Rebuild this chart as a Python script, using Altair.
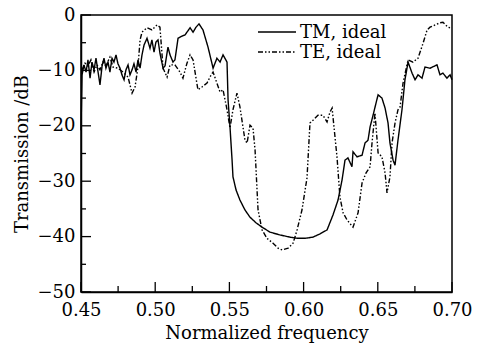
import altair as alt
import pandas as pd

tm_x = [0.4500, 0.4507, 0.4520, 0.4534, 0.4547, 0.4561, 0.4574, 0.4588, 0.4601, 0.4615,
        0.4628, 0.4642, 0.4655, 0.4668, 0.4682, 0.4695, 0.4709, 0.4722, 0.4736, 0.4749,
        0.4763, 0.4776, 0.4790, 0.4803, 0.4817, 0.4830, 0.4844, 0.4857, 0.4871, 0.4884,
        0.4898, 0.4911, 0.4925, 0.4945, 0.4965, 0.4978, 0.4992, 0.5005, 0.5019, 0.5032,
        0.5053, 0.5066, 0.5086, 0.5100, 0.5120, 0.5133, 0.5154, 0.5181, 0.5201, 0.5235,
        0.5255, 0.5275, 0.5295, 0.5322, 0.5356, 0.5390, 0.5416, 0.5437, 0.5457, 0.5484,
        0.5491, 0.5504, 0.5518, 0.5524, 0.5545, 0.5571, 0.5605, 0.5639, 0.5679, 0.5726,
        0.5774, 0.5841, 0.5908, 0.5956, 0.6010, 0.6063, 0.6111, 0.6158, 0.6198, 0.6232,
        0.6259, 0.6279, 0.6299, 0.6326, 0.6333, 0.6360, 0.6394, 0.6414, 0.6434, 0.6448,
        0.6468, 0.6488, 0.6502, 0.6528, 0.6549, 0.6569, 0.6582, 0.6603, 0.6616, 0.6636,
        0.6663, 0.6683, 0.6704, 0.6731, 0.6751, 0.6771, 0.6798, 0.6818, 0.6852, 0.6899,
        0.6919, 0.6939, 0.6966, 0.6987, 0.7000]
tm_y = [-20.8, -10.8, -9.0, -10.3, -8.1, -11.4, -8.5, -9.9, -7.8, -10.3,
        -12.6, -9.2, -7.8, -9.6, -8.5, -10.3, -7.8, -8.5, -7.2, -8.8,
        -9.6, -10.8, -11.7, -9.9, -9.0, -10.8, -9.9, -8.8, -10.3, -8.1,
        -9.6, -7.2, -5.4, -4.2, -6.0, -4.5, -6.7, -4.9, -4.5, -6.9,
        -9.6, -9.2, -5.8, -7.2, -8.5, -8.1, -4.2, -3.8, -3.6, -2.3,
        -3.1, -2.2, -1.6, -2.7, -5.8, -9.6, -7.8, -8.5, -7.2, -8.5,
        -15.3, -20.2, -26.2, -29.2, -31.6, -33.4, -35.2, -36.5, -37.5, -38.4,
        -39.2, -39.7, -40.1, -40.3, -40.3, -40.1, -39.5, -38.8, -36.1, -33.4,
        -29.8, -26.2, -25.8, -27.4, -24.7, -25.6, -25.3, -23.1, -22.6, -20.2,
        -18.1, -15.9, -14.4, -15.0, -16.8, -19.5, -23.1, -26.2, -27.1, -22.6,
        -17.1, -11.7, -8.5, -10.5, -11.7, -10.8, -11.4, -9.4, -9.6, -9.0,
        -10.8, -10.5, -11.4, -10.8, -11.7]

te_x = [0.4507, 0.4527, 0.4547, 0.4567, 0.4588, 0.4608, 0.4628, 0.4648, 0.4668, 0.4695,
        0.4716, 0.4749, 0.4783, 0.4817, 0.4844, 0.4864, 0.4884, 0.4898, 0.4911, 0.4945,
        0.4978, 0.5012, 0.5032, 0.5053, 0.5080, 0.5100, 0.5133, 0.5167, 0.5187, 0.5214,
        0.5235, 0.5255, 0.5288, 0.5315, 0.5349, 0.5369, 0.5390, 0.5416, 0.5437, 0.5457,
        0.5484, 0.5504, 0.5524, 0.5551, 0.5571, 0.5605, 0.5619, 0.5639, 0.5659, 0.5673,
        0.5693, 0.5720, 0.5753, 0.5794, 0.5828, 0.5855, 0.5895, 0.5929, 0.5956, 0.5989,
        0.6023, 0.6043, 0.6063, 0.6097, 0.6131, 0.6158, 0.6178, 0.6192, 0.6198, 0.6225,
        0.6245, 0.6266, 0.6293, 0.6333, 0.6367, 0.6394, 0.6421, 0.6448, 0.6461, 0.6481,
        0.6502, 0.6528, 0.6549, 0.6562, 0.6582, 0.6596, 0.6616, 0.6636, 0.6650, 0.6670,
        0.6704, 0.6737, 0.6771, 0.6805, 0.6832, 0.6852, 0.6886, 0.6919, 0.6939, 0.6973,
        0.6987]
te_y = [-9.9, -8.7, -9.2, -8.1, -10.3, -9.0, -9.9, -8.5, -9.2, -7.6,
        -9.4, -9.6, -10.3, -11.2, -14.1, -13.0, -9.4, -4.5, -3.1, -2.3,
        -2.7, -1.8, -2.2, -9.6, -11.2, -9.0, -9.0, -10.3, -11.4, -8.7,
        -7.2, -8.1, -13.5, -13.0, -12.3, -11.2, -10.3, -12.3, -13.9, -13.5,
        -17.1, -20.4, -17.1, -14.1, -16.6, -22.6, -23.1, -19.9, -20.4, -24.4,
        -35.2, -38.8, -40.3, -41.2, -42.1, -42.4, -42.1, -41.2, -38.8, -35.2,
        -29.4, -19.5, -19.0, -18.1, -18.1, -19.3, -17.5, -16.8, -18.4, -25.6,
        -32.9, -35.7, -37.0, -38.3, -35.7, -30.3, -28.5, -27.4, -23.1, -17.7,
        -24.9, -25.6, -28.5, -32.1, -29.2, -23.1, -19.5, -17.1, -16.6, -12.3,
        -8.1, -8.5, -7.8, -5.1, -2.7, -2.2, -1.8, -1.4, -1.3, -2.2,
        -2.3]

series_names = ["TM, ideal", "TE, ideal"]
x_major = [0.45, 0.50, 0.55, 0.60, 0.65, 0.70]
x_minor = [0.475, 0.525, 0.575, 0.625, 0.675]
y_major = [0, -10, -20, -30, -40, -50]
y_minor = [-5, -15, -25, -35, -45]

df = pd.concat([
    pd.DataFrame({"f": tm_x, "t": tm_y, "s": series_names[0], "o": range(len(tm_x))}),
    pd.DataFrame({"f": te_x, "t": te_y, "s": series_names[1], "o": range(len(te_x))}),
])

FONT = "DejaVu Serif"
xs = alt.Scale(domain=[0.45, 0.70], nice=False, zero=False)
ys = alt.Scale(domain=[-50, 0], nice=False, zero=False)
dash_scale = alt.Scale(domain=series_names, range=[[1, 0], [5, 2, 1.5, 2, 1.5, 2]])

lines = alt.Chart(df).mark_line(color="black", strokeWidth=1.4).encode(
    x=alt.X("f:Q", scale=xs, title="Normalized frequency",
            axis=alt.Axis(values=x_major, format=".2f", tickSize=0, labelPadding=9,
                          labelFontSize=18, titleFontSize=18, titlePadding=5,
                          labelFlush=False, grid=False, domainWidth=1.5,
                          domainColor="black", labelColor="black", titleColor="black")),
    y=alt.Y("t:Q", scale=ys, title="Transmission /dB",
            axis=alt.Axis(values=y_major, tickSize=0, labelPadding=6, labelFontSize=18,
                          titleFontSize=18, titlePadding=6, labelFlush=False, grid=False,
                          domainWidth=1.5, domainColor="black", labelColor="black",
                          titleColor="black")),
    strokeDash=alt.StrokeDash("s:N", scale=dash_scale, legend=None),
    order="o:Q",
)

leg_rows = [17, 37]
legend_layers = []
for name, row in zip(series_names, leg_rows):
    ldf = pd.DataFrame({"s": [name]})
    legend_layers.append(
        alt.Chart(ldf).mark_rule(color="black", strokeWidth=1.5).encode(
            x=alt.value(177), x2=alt.value(215), y=alt.value(row),
            strokeDash=alt.StrokeDash("s:N", scale=dash_scale, legend=None),
        )
    )
    legend_layers.append(
        alt.Chart(ldf).mark_text(
            align="left", baseline="middle", font=FONT, fontSize=18, color="black", dy=1
        ).encode(x=alt.value(219), y=alt.value(row), text="s:N")
    )

xmaj = alt.Chart(pd.DataFrame({"v": x_major})).mark_rule(color="black", strokeWidth=1.3).encode(
    x=alt.X("v:Q", scale=xs), y=alt.value(277), y2=alt.value(267))
xmin = alt.Chart(pd.DataFrame({"v": x_minor})).mark_rule(color="black", strokeWidth=1.3).encode(
    x=alt.X("v:Q", scale=xs), y=alt.value(277), y2=alt.value(271))
ymaj = alt.Chart(pd.DataFrame({"v": y_major})).mark_rule(color="black", strokeWidth=1.3).encode(
    y=alt.Y("v:Q", scale=ys), x=alt.value(0), x2=alt.value(10))
ymin = alt.Chart(pd.DataFrame({"v": y_minor})).mark_rule(color="black", strokeWidth=1.3).encode(
    y=alt.Y("v:Q", scale=ys), x=alt.value(0), x2=alt.value(5))

chart = alt.layer(lines, xmaj, xmin, ymaj, ymin, *legend_layers).properties(
    width=371, height=277,
    autosize=alt.AutoSizeParams(type="none"),
    padding={"left": 81, "top": 15, "right": 35, "bottom": 52},
    background="white",
).configure_view(stroke="black", strokeWidth=1.5).configure_axis(
    labelFont=FONT, titleFont=FONT, titleFontWeight="normal"
)

chart.save("out.html", embed_options={"renderer": "svg", "actions": False})
